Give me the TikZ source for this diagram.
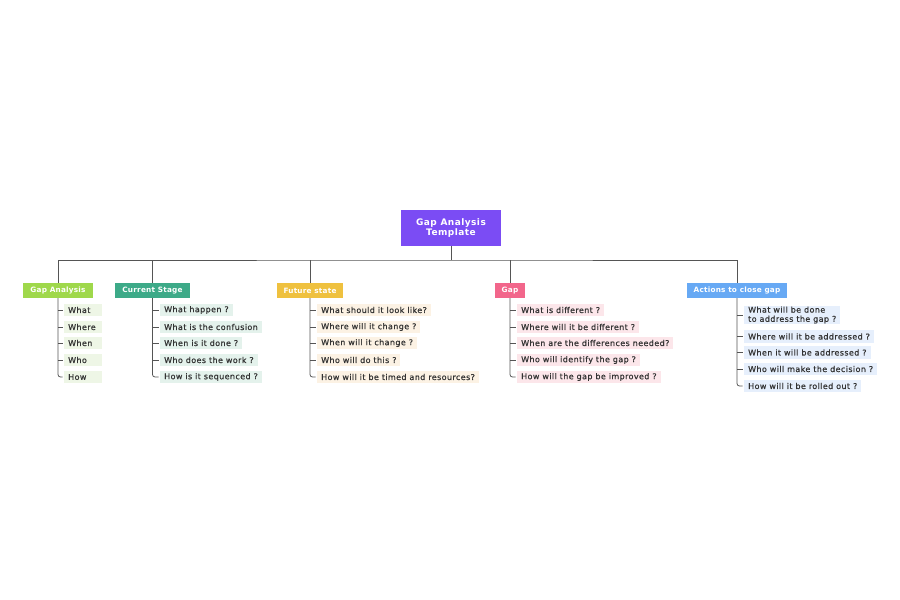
\documentclass[tikz,border=0pt]{standalone}
\usepackage{fontspec}
\setmainfont{DejaVu Sans}
\newfontfamily\spfont[LetterSpace=5,FakeBold=0.6]{DejaVu Sans}
\newfontfamily\rtfont[LetterSpace=5]{DejaVu Sans}
\newfontfamily\brfont[LetterSpace=3]{DejaVu Sans}
\definecolor{cpurple}{HTML}{7B4CF4}
\definecolor{cgreen}{HTML}{9FD84B}
\definecolor{cteal}{HTML}{3DAA88}
\definecolor{cyellow}{HTML}{EFC13F}
\definecolor{cpink}{HTML}{F2668B}
\definecolor{cblue}{HTML}{67A9F4}
\definecolor{lgreen}{HTML}{EEF6E6}
\definecolor{lteal}{HTML}{E4F2EC}
\definecolor{lyellow}{HTML}{FCF2E4}
\definecolor{lpink}{HTML}{FCE6EA}
\definecolor{lblue}{HTML}{E6EFFC}
\definecolor{ctext}{HTML}{333333}
\definecolor{cline}{HTML}{555555}
\tikzset{
  rootbox/.style={fill=cpurple, text=white, font=\rtfont\fontsize{9}{10.5}\selectfont\bfseries, align=center, minimum width=100pt, minimum height=36pt, inner sep=0pt},
  branchbox/.style={fill=#1, text=white, font=\brfont\fontsize{7.3}{8.5}\selectfont\bfseries, minimum height=15pt, inner xsep=7pt, inner ysep=0pt},
  childbox/.style={fill=#1, text=ctext, font=\spfont\fontsize{8}{9.2}\selectfont, anchor=west, minimum height=12.5pt, inner xsep=4pt, inner ysep=1pt, align=left},
  conn/.style={draw=cline, line width=0.8pt},
  tick/.style={draw=cline, line width=0.8pt, shorten >=1.5pt},
}
\begin{document}
\begin{tikzpicture}[x=1pt,y=-1pt]
\useasboundingbox (0,0) rectangle (900,600);
\node[rootbox] (root) at (451,228) {Gap Analysis\\Template};
\coordinate (bus) at (451,260);

\node[branchbox=cgreen] (b1) at (58,290.5) {Gap Analysis};
\node[branchbox=cteal] (b2) at (152.5,290.5) {Current Stage};
\node[branchbox=cyellow] (b3) at (310,290.5) {Future state};
\node[branchbox=cpink] (b4) at (510,290.5) {Gap};
\node[branchbox=cblue] (b5) at (737,290.5) {Actions to close gap};

\draw[conn] (root.south) -- (bus);
\draw[conn] (b1.north) |- (bus) -| (b5.north);
\draw[conn] (b2.north) -- (b2.north |- bus);
\draw[conn] (b3.north) -- (b3.north |- bus);
\draw[conn] (b4.north) -- (b4.north |- bus);

% Gap Analysis children
\foreach \n/\y/\t in {1/310/What,2/327/Where,3/343/When,4/360/Who,5/377/How}{
  \node[childbox=lgreen, text width=30pt] (a\n) at (64,\y) {\t};
}
% Current Stage children
\node[childbox=lteal] (c1) at (160,310) {What happen ?};
\node[childbox=lteal] (c2) at (160,327) {What is the confusion};
\node[childbox=lteal] (c3) at (160,343) {When is it done ?};
\node[childbox=lteal] (c4) at (160,360) {Who does the work ?};
\node[childbox=lteal] (c5) at (160,377) {How is it sequenced ?};
% Future state children
\node[childbox=lyellow] (f1) at (317,310) {What should it look like?};
\node[childbox=lyellow] (f2) at (317,327) {Where will it change ?};
\node[childbox=lyellow] (f3) at (317,343) {When will it change ?};
\node[childbox=lyellow] (f4) at (317,360) {Who will do this ?};
\node[childbox=lyellow] (f5) at (317,377) {How will it be timed and resources?};
% Gap children
\node[childbox=lpink] (g1) at (517,310) {What is different ?};
\node[childbox=lpink] (g2) at (517,327) {Where will it be different ?};
\node[childbox=lpink] (g3) at (517,343) {When are the differences needed?};
\node[childbox=lpink] (g4) at (517,360) {Who will identify the gap ?};
\node[childbox=lpink] (g5) at (517,377) {How will the gap be improved ?};
% Actions children
\node[childbox=lblue] (h1) at (744,315) {What will be done\\to address the gap ?};
\node[childbox=lblue] (h2) at (744,336.5) {Where will it be addressed ?};
\node[childbox=lblue] (h3) at (744,352.5) {When it will be addressed ?};
\node[childbox=lblue] (h4) at (744,369) {Who will make the decision ?};
\node[childbox=lblue] (h5) at (744,386) {How will it be rolled out ?};

\foreach \b/\c in {b1/a,b2/c,b3/f,b4/g,b5/h}{
  \draw[conn, rounded corners=2.5pt, shorten >=1.5pt] (\b.south) |- (\c5.west);
  \foreach \k in {1,2,3,4}{
    \draw[tick] (\c\k.west -| \b.south) -- (\c\k.west);
  }
}
\end{tikzpicture}
\end{document}
